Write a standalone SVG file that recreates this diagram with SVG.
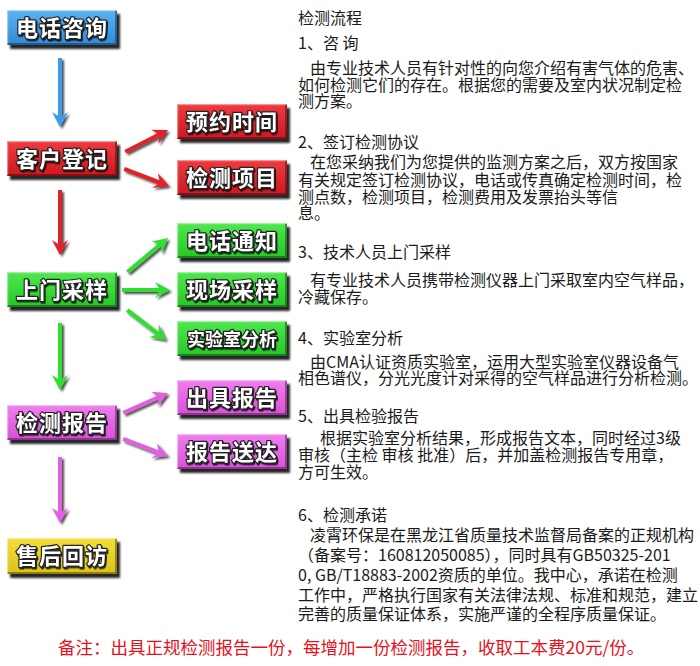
<svg xmlns="http://www.w3.org/2000/svg" width="700" height="666" viewBox="0 0 700 666">
<style>
.bx{stroke:none}
.lbl{font-family:"Noto Sans CJK SC","Noto Sans CJK JP",sans-serif;font-weight:700;font-size:22px;fill:#fff;stroke:#222;stroke-width:2.4px;paint-order:stroke;stroke-linejoin:round;text-anchor:middle;letter-spacing:1px}
.t{font-family:"Noto Sans CJK SC","Noto Sans CJK JP",sans-serif;font-size:16px;fill:#1a1a1a}
.note{font-family:"Noto Sans CJK SC","Noto Sans CJK JP",sans-serif;font-size:17.5px;fill:#e8101a}
.hl{fill:none;stroke:#fff;stroke-opacity:.45;stroke-width:1.2}
.dk{fill:none;stroke:#000;stroke-opacity:.35;stroke-width:2}
</style>
<defs>
<filter id="sh" x="-20%" y="-30%" width="140%" height="170%">
<feDropShadow dx="3" dy="4" stdDeviation="1.2" flood-color="#000" flood-opacity="0.85"/>
</filter>
<filter id="ash" x="-30%" y="-30%" width="160%" height="160%">
<feDropShadow dx="2" dy="2" stdDeviation="1.2" flood-color="#000" flood-opacity="0.7"/>
</filter>
<filter id="tsh" x="-10%" y="-30%" width="120%" height="160%">
<feDropShadow dx="1" dy="1.5" stdDeviation="0.6" flood-color="#000" flood-opacity="0.8"/>
</filter>
<linearGradient id="gB" x1="0" y1="0" x2="0" y2="1"><stop offset="0" stop-color="#5cb2f0"/><stop offset="1" stop-color="#2f8ad6"/></linearGradient>
<linearGradient id="gR" x1="0" y1="0" x2="0" y2="1"><stop offset="0" stop-color="#f03a40"/><stop offset="1" stop-color="#cc1820"/></linearGradient>
<linearGradient id="gG" x1="0" y1="0" x2="0" y2="1"><stop offset="0" stop-color="#4fe84f"/><stop offset="1" stop-color="#26c626"/></linearGradient>
<linearGradient id="gM" x1="0" y1="0" x2="0" y2="1"><stop offset="0" stop-color="#f07ef0"/><stop offset="1" stop-color="#d84fd8"/></linearGradient>
<linearGradient id="gY" x1="0" y1="0" x2="0" y2="1"><stop offset="0" stop-color="#f2de3a"/><stop offset="1" stop-color="#dcc118"/></linearGradient>
</defs>
<rect width="700" height="666" fill="#fff"/>

<g id="connectors" filter="url(#ash)">
<path fill="#3d9be9" d="M-69,-2 L-11,-2 L-15,-8 L0,0 L-15,8 L-11,2 L-69,2Z" transform="translate(60,127) rotate(90)"/>
<path fill="#e0202a" d="M-48,-2 L-11,-2 L-15,-8 L0,0 L-15,8 L-11,2 L-48,2Z" transform="translate(168,130) rotate(-27)"/>
<path fill="#e0202a" d="M-48,-2 L-11,-2 L-15,-8 L0,0 L-15,8 L-11,2 L-48,2Z" transform="translate(169,186) rotate(21)"/>
<path fill="#e0202a" d="M-65,-2 L-11,-2 L-15,-8 L0,0 L-15,8 L-11,2 L-65,2Z" transform="translate(60,255) rotate(90)"/>
<path fill="#33dd33" d="M-53,-2 L-11,-2 L-15,-8 L0,0 L-15,8 L-11,2 L-53,2Z" transform="translate(168,238) rotate(-40)"/>
<path fill="#33dd33" d="M-48,-2 L-11,-2 L-15,-8 L0,0 L-15,8 L-11,2 L-48,2Z" transform="translate(170,290)"/>
<path fill="#33dd33" d="M-49,-2 L-11,-2 L-15,-8 L0,0 L-15,8 L-11,2 L-49,2Z" transform="translate(166,340) rotate(37.6)"/>
<path fill="#33dd33" d="M-67,-2 L-11,-2 L-15,-8 L0,0 L-15,8 L-11,2 L-67,2Z" transform="translate(60,390) rotate(90)"/>
<path fill="#e060e0" d="M-49,-2 L-11,-2 L-15,-8 L0,0 L-15,8 L-11,2 L-49,2Z" transform="translate(168,393) rotate(-24)"/>
<path fill="#e060e0" d="M-48,-2 L-11,-2 L-15,-8 L0,0 L-15,8 L-11,2 L-48,2Z" transform="translate(168,456) rotate(21)"/>
<path fill="#e060e0" d="M-66,-2 L-11,-2 L-15,-8 L0,0 L-15,8 L-11,2 L-66,2Z" transform="translate(60,523) rotate(90)"/>
</g>

<g id="n1"><rect x="7" y="10" width="110" height="35" fill="url(#gB)" filter="url(#sh)"/><path class="hl" d="M7.6,44 V10.6 H116.4"/><path class="dk" d="M8,44 H116 V11"/><text class="lbl" x="62" y="35.5" filter="url(#tsh)">电话咨询</text></g>
<g id="n2"><rect x="7" y="141" width="110" height="35" fill="url(#gR)" filter="url(#sh)"/><path class="hl" d="M7.6,175 V141.6 H116.4"/><path class="dk" d="M8,175 H116 V142"/><text class="lbl" x="62" y="166.5" filter="url(#tsh)">客户登记</text></g>
<g id="n3"><rect x="177" y="104" width="110" height="35" fill="url(#gR)" filter="url(#sh)"/><path class="hl" d="M177.6,138 V104.6 H286.4"/><path class="dk" d="M178,138 H286 V105"/><text class="lbl" x="232" y="129.5" filter="url(#tsh)">预约时间</text></g>
<g id="n4"><rect x="177" y="160" width="110" height="35" fill="url(#gR)" filter="url(#sh)"/><path class="hl" d="M177.6,194 V160.6 H286.4"/><path class="dk" d="M178,194 H286 V161"/><text class="lbl" x="232" y="185.5" filter="url(#tsh)">检测项目</text></g>
<g id="n5"><rect x="7" y="272" width="110" height="35" fill="url(#gG)" filter="url(#sh)"/><path class="hl" d="M7.6,306 V272.6 H116.4"/><path class="dk" d="M8,306 H116 V273"/><text class="lbl" x="62" y="297.5" filter="url(#tsh)">上门采样</text></g>
<g id="n6"><rect x="177" y="223" width="110" height="35" fill="url(#gG)" filter="url(#sh)"/><path class="hl" d="M177.6,257 V223.6 H286.4"/><path class="dk" d="M178,257 H286 V224"/><text class="lbl" x="232" y="248.5" filter="url(#tsh)">电话通知</text></g>
<g id="n7"><rect x="177" y="272" width="110" height="35" fill="url(#gG)" filter="url(#sh)"/><path class="hl" d="M177.6,306 V272.6 H286.4"/><path class="dk" d="M178,306 H286 V273"/><text class="lbl" x="232" y="297.5" filter="url(#tsh)">现场采样</text></g>
<g id="n8"><rect x="177" y="321" width="110" height="35" fill="url(#gG)" filter="url(#sh)"/><path class="hl" d="M177.6,355 V321.6 H286.4"/><path class="dk" d="M178,355 H286 V322"/><text class="lbl" x="232" y="346" filter="url(#tsh)" style="font-size:18px;letter-spacing:0">实验室分析</text></g>
<g id="n9"><rect x="7" y="405" width="110" height="35" fill="url(#gM)" filter="url(#sh)"/><path class="hl" d="M7.6,439 V405.6 H116.4"/><path class="dk" d="M8,439 H116 V406"/><text class="lbl" x="62" y="430.5" filter="url(#tsh)">检测报告</text></g>
<g id="n10"><rect x="177" y="380" width="110" height="35" fill="url(#gM)" filter="url(#sh)"/><path class="hl" d="M177.6,414 V380.6 H286.4"/><path class="dk" d="M178,414 H286 V381"/><text class="lbl" x="232" y="405.5" filter="url(#tsh)">出具报告</text></g>
<g id="n11"><rect x="177" y="434" width="110" height="35" fill="url(#gM)" filter="url(#sh)"/><path class="hl" d="M177.6,468 V434.6 H286.4"/><path class="dk" d="M178,468 H286 V435"/><text class="lbl" x="232" y="459.5" filter="url(#tsh)">报告送达</text></g>
<g id="n12"><rect x="7" y="538" width="110" height="36" fill="url(#gY)" filter="url(#sh)"/><path class="hl" d="M7.6,573 V538.6 H116.4"/><path class="dk" d="M8,573 H116 V539"/><text class="lbl" x="62" y="564" filter="url(#tsh)">售后回访</text></g>

<g id="description">
<text class="t" x="298" y="24">检测流程</text>
<text class="t" x="298" y="49">1、咨 询</text>
<text class="t" x="310" y="74">由专业技术人员有针对性的向您介绍有害气体的危害、</text>
<text class="t" x="298" y="91">如何检测它们的存在。根据您的需要及室内状况制定检</text>
<text class="t" x="298" y="107">测方案。</text>
<text class="t" x="298" y="148">2、签订检测协议</text>
<text class="t" x="310" y="168">在您采纳我们为您提供的监测方案之后，双方按国家</text>
<text class="t" x="298" y="186">有关规定签订检测协议，电话或传真确定检测时间，检</text>
<text class="t" x="298" y="203">测点数，检测项目，检测费用及发票抬头等信</text>
<text class="t" x="298" y="219">息。</text>
<text class="t" x="298" y="258">3、技术人员上门采样</text>
<text class="t" x="310" y="286">有专业技术人员携带检测仪器上门采取室内空气样品，</text>
<text class="t" x="298" y="303">冷藏保存。</text>
<text class="t" x="298" y="344">4、实验室分析</text>
<text class="t" x="310" y="368">由CMA认证资质实验室，运用大型实验室仪器设备气</text>
<text class="t" x="298" y="384">相色谱仪，分光光度计对采得的空气样品进行分析检测。</text>
<text class="t" x="298" y="422">5、出具检验报告</text>
<text class="t" x="320" y="444">根据实验室分析结果，形成报告文本，同时经过3级</text>
<text class="t" x="298" y="461">审核（主检 审核 批准）后，并加盖检测报告专用章，</text>
<text class="t" x="298" y="478">方可生效。</text>
<text class="t" x="298" y="521">6、检测承诺</text>
<text class="t" x="310" y="541">凌霄环保是在黑龙江省质量技术监督局备案的正规机构</text>
<text class="t" x="298" y="561">（备案号：160812050085），同时具有GB50325-201</text>
<text class="t" x="298" y="581">0, GB/T18883-2002资质的单位。我中心，承诺在检测</text>
<text class="t" x="298" y="601">工作中，严格执行国家有关法律法规、标准和规范，建立</text>
<text class="t" x="298" y="620">完善的质量保证体系，实施严谨的全程序质量保证。</text>
</g>
<text class="note" x="58" y="654">备注：出具正规检测报告一份，每增加一份检测报告，收取工本费20元/份。</text>
</svg>
